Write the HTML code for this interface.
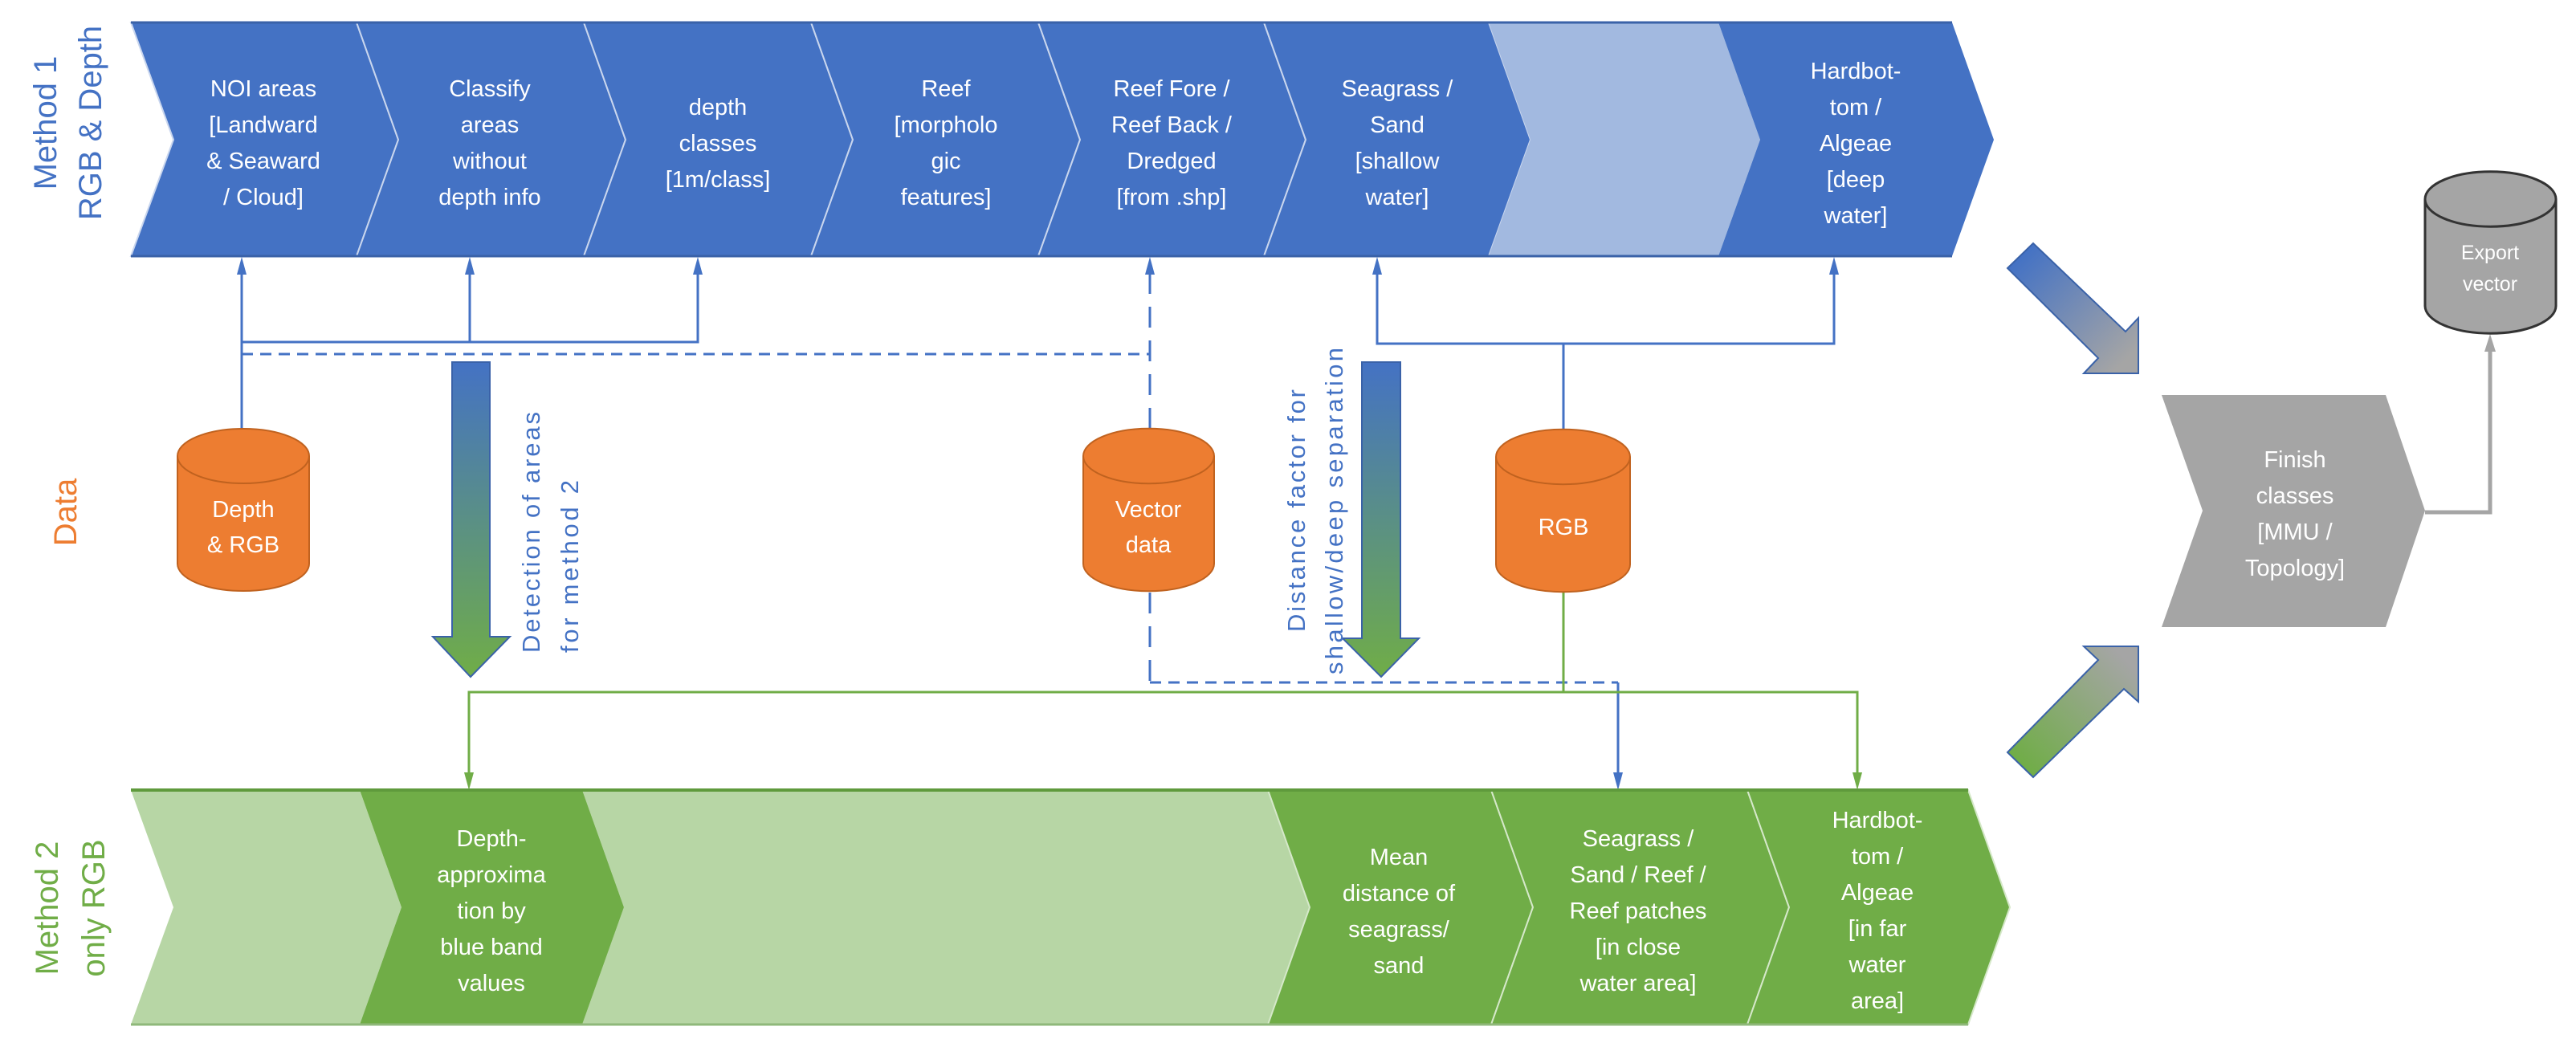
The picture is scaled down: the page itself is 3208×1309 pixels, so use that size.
<!DOCTYPE html>
<html><head><meta charset="utf-8"><style>html,body{margin:0;padding:0;background:#fff}svg{display:block}</style></head><body>
<svg width="3208" height="1309" viewBox="0 0 3208 1309" xmlns="http://www.w3.org/2000/svg" font-family="Liberation Sans, sans-serif">
<defs>
<linearGradient id="bg" x1="0" y1="0" x2="0" y2="1"><stop offset="0" stop-color="#4472C4"/><stop offset="1" stop-color="#70AD47"/></linearGradient>
<linearGradient id="dblue" x1="0" y1="0" x2="1" y2="1"><stop offset="0.1" stop-color="#4472C4"/><stop offset="0.9" stop-color="#A5A5A5"/></linearGradient>
<linearGradient id="dgreen" x1="0" y1="1" x2="1" y2="0"><stop offset="0.1" stop-color="#70AD47"/><stop offset="0.9" stop-color="#A5A5A5"/></linearGradient>
</defs>

<!-- Top band -->
<g stroke="#C9D6EE" stroke-width="2">
<polygon points="163,28 444,28 496,174 444,319 163,319 216,174" fill="#4472C4"/>
<polygon points="444,28 727,28 779,174 727,319 444,319 496,174" fill="#4472C4"/>
<polygon points="727,28 1010,28 1062,174 1010,319 727,319 779,174" fill="#4472C4"/>
<polygon points="1010,28 1293,28 1345,174 1293,319 1010,319 1062,174" fill="#4472C4"/>
<polygon points="1293,28 1574,28 1626,174 1574,319 1293,319 1345,174" fill="#4472C4"/>
<polygon points="1574,28 1854,28 1906,174 1854,319 1574,319 1626,174" fill="#4472C4"/>
<polygon points="1854,28 2140,28 2192,174 2140,319 1854,319 1906,174" fill="#A2B9E0" stroke="none"/>
<polygon points="2140,28 2431,28 2483,174 2431,319 2140,319 2192,174" fill="#4472C4" stroke="none"/>
</g>
<line x1="163" y1="28" x2="2431" y2="28" stroke="#3A62A8" stroke-width="3"/>
<line x1="163" y1="319" x2="2431" y2="319" stroke="#3A62A8" stroke-width="3"/>

<g fill="#fff" font-size="29" text-anchor="middle">
<text x="328" y="120">NOI areas</text><text x="328" y="165">[Landward</text><text x="328" y="210">&amp; Seaward</text><text x="328" y="255">/ Cloud]</text>
<text x="610" y="120">Classify</text><text x="610" y="165">areas</text><text x="610" y="210">without</text><text x="610" y="255">depth info</text>
<text x="894" y="143">depth</text><text x="894" y="188">classes</text><text x="894" y="233">[1m/class]</text>
<text x="1178" y="120">Reef</text><text x="1178" y="165">[morpholo</text><text x="1178" y="210">gic</text><text x="1178" y="255">features]</text>
<text x="1459" y="120">Reef Fore /</text><text x="1459" y="165">Reef Back /</text><text x="1459" y="210">Dredged</text><text x="1459" y="255">[from .shp]</text>
<text x="1740" y="120">Seagrass /</text><text x="1740" y="165">Sand</text><text x="1740" y="210">[shallow</text><text x="1740" y="255">water]</text>
<text x="2311" y="98">Hardbot-</text><text x="2311" y="143">tom /</text><text x="2311" y="188">Algeae</text><text x="2311" y="233">[deep</text><text x="2311" y="278">water]</text>
</g>

<!-- side labels -->
<g font-size="40" text-anchor="middle">
<text transform="translate(70,153) rotate(-90)" fill="#4472C4">Method 1</text>
<text transform="translate(126,153) rotate(-90)" fill="#4472C4">RGB &amp; Depth</text>
<text transform="translate(95,638) rotate(-90)" fill="#ED7D31">Data</text>
<text transform="translate(72,1131) rotate(-90)" fill="#70AD47">Method 2</text>
<text transform="translate(130,1131) rotate(-90)" fill="#70AD47">only RGB</text>
</g>

<!-- blue connectors top -->
<g stroke="#4472C4" stroke-width="3" fill="none">
<line x1="301" y1="534" x2="301" y2="340"/>
<polyline points="301,426 869,426 869,340"/>
<line x1="585" y1="426" x2="585" y2="340"/>
<line x1="301" y1="441" x2="1432" y2="441" stroke-dasharray="14,9"/>
<line x1="1432" y1="534" x2="1432" y2="340" stroke-dasharray="26,16"/>
<polyline points="1715,340 1715,428 2284,428 2284,340"/>
<line x1="1947" y1="428" x2="1947" y2="535"/>
</g>
<g fill="#4472C4">
<polygon points="301,320 295,342 307,342"/>
<polygon points="585,320 579,342 591,342"/>
<polygon points="869,320 863,342 875,342"/>
<polygon points="1432,320 1426,342 1438,342"/>
<polygon points="1715,320 1709,342 1721,342"/>
<polygon points="2284,320 2278,342 2290,342"/>
</g>

<!-- lower connectors -->
<g fill="none" stroke-width="3">
<line x1="1432" y1="738" x2="1432" y2="850" stroke="#4472C4" stroke-dasharray="26,16"/>
<line x1="1432" y1="850" x2="2015" y2="850" stroke="#4472C4" stroke-dasharray="14,9"/>
<line x1="2015" y1="850" x2="2015" y2="965" stroke="#4472C4"/>
<line x1="1947" y1="738" x2="1947" y2="862" stroke="#70AD47"/>
<polyline points="584,965 584,862 2313,862 2313,965" stroke="#70AD47"/>
</g>
<polygon points="584,984 578,962 590,962" fill="#70AD47"/>
<polygon points="2313,984 2307,962 2319,962" fill="#70AD47"/>
<polygon points="2015,984 2009,962 2021,962" fill="#4472C4"/>

<!-- gradient big arrows -->
<polygon points="563,451 610,451 610,793 635,793 586,843 539,793 563,793" fill="url(#bg)" stroke="#3A62A8" stroke-width="2"/>
<polygon points="1696,451 1744,451 1744,795 1767,795 1720,843 1672,795 1696,795" fill="url(#bg)" stroke="#3A62A8" stroke-width="2"/>
<g fill="#4472C4" font-size="31">
<text transform="translate(672,813) rotate(-90)" textLength="300">Detection of areas</text>
<text transform="translate(720,813) rotate(-90)" textLength="215">for method 2</text>
<text transform="translate(1625,787) rotate(-90)" textLength="302">Distance factor for</text>
<text transform="translate(1672,840) rotate(-90)" textLength="407">shallow/deep separation</text>
</g>

<!-- cylinders -->
<g stroke="#C0621F" stroke-width="2">
<path d="M221,568 A82,34 0 0 1 385,568 L385,702 A82,34 0 0 1 221,702 Z" fill="#ED7D31"/>
<path d="M221,568 A82,34 0 0 0 385,568" fill="none"/>
<path d="M1349,568 A81,34 0 0 1 1512,568 L1512,702 A81,34 0 0 1 1349,702 Z" fill="#ED7D31"/>
<path d="M1349,568 A81,34 0 0 0 1512,568" fill="none"/>
<path d="M1863,569 A83,34 0 0 1 2030,569 L2030,703 A83,34 0 0 1 1863,703 Z" fill="#ED7D31"/>
<path d="M1863,569 A83,34 0 0 0 2030,569" fill="none"/>
</g>
<g fill="#fff" font-size="29" text-anchor="middle">
<text x="303" y="644">Depth</text><text x="303" y="688">&amp; RGB</text>
<text x="1430" y="644">Vector</text><text x="1430" y="688">data</text>
<text x="1947" y="666">RGB</text>
</g>

<!-- bottom band -->
<g stroke="#D5E8C9" stroke-width="2">
<polygon points="163,984 448,984 500,1130 448,1276 163,1276 216,1130" fill="#B7D6A5" stroke="none"/>
<polygon points="725,984 1579,984 1631,1130 1579,1276 725,1276 777,1130" fill="#B7D6A5" stroke="none"/>
<polygon points="448,984 725,984 777,1130 725,1276 448,1276 500,1130" fill="#70AD47" stroke="none"/>
<polygon points="1579,984 1857,984 1909,1130 1857,1276 1579,1276 1631,1130" fill="#70AD47"/>
<polygon points="1857,984 2176,984 2228,1130 2176,1276 1857,1276 1909,1130" fill="#70AD47"/>
<polygon points="2176,984 2451,984 2503,1130 2451,1276 2176,1276 2228,1130" fill="#70AD47"/>
</g>
<line x1="163" y1="984" x2="2451" y2="984" stroke="#5F9A3C" stroke-width="4"/>
<line x1="163" y1="1276" x2="2451" y2="1276" stroke="#8FB87A" stroke-width="3"/>
<g fill="#fff" font-size="29" text-anchor="middle">
<text x="612" y="1054">Depth-</text><text x="612" y="1099">approxima</text><text x="612" y="1144">tion by</text><text x="612" y="1189">blue band</text><text x="612" y="1234">values</text>
<text x="1742" y="1077">Mean</text><text x="1742" y="1122">distance of</text><text x="1742" y="1167">seagrass/</text><text x="1742" y="1212">sand</text>
<text x="2040" y="1054">Seagrass /</text><text x="2040" y="1099">Sand / Reef /</text><text x="2040" y="1144">Reef patches</text><text x="2040" y="1189">[in close</text><text x="2040" y="1234">water area]</text>
<text x="2338" y="1031">Hardbot-</text><text x="2338" y="1076">tom /</text><text x="2338" y="1121">Algeae</text><text x="2338" y="1166">[in far</text><text x="2338" y="1211">water</text><text x="2338" y="1256">area]</text>
</g>

<!-- diagonal arrows -->
<polygon points="2500,334 2532,303 2647,413 2663,396 2663,465 2595,465 2613,446" fill="url(#dblue)" stroke="#3A62A8" stroke-width="2"/>
<polygon points="2500,937 2532,968 2645,858 2663,874 2663,805 2595,805 2613,822" fill="url(#dgreen)" stroke="#3A62A8" stroke-width="2"/>

<!-- finish -->
<polygon points="2692,492 2971,492 3020,636 2971,781 2692,781 2743,636" fill="#A5A5A5"/>
<g fill="#fff" font-size="29" text-anchor="middle">
<text x="2858" y="582">Finish</text><text x="2858" y="627">classes</text><text x="2858" y="672">[MMU /</text><text x="2858" y="717">Topology]</text>
</g>
<polyline points="3020,638 3101,638 3101,432" fill="none" stroke="#A5A5A5" stroke-width="5"/>
<polygon points="3101,416 3094,438 3108,438" fill="#A5A5A5"/>

<!-- export cylinder -->
<path d="M3020,248 A81,34 0 0 1 3183,248 L3183,381 A81,34 0 0 1 3020,381 Z" fill="#A5A5A5" stroke="#333" stroke-width="3"/>
<path d="M3020,248 A81,34 0 0 0 3183,248" fill="none" stroke="#333" stroke-width="3"/>
<g fill="#fff" font-size="25" text-anchor="middle"><text x="3101" y="323">Export</text><text x="3101" y="362">vector</text></g>
</svg>
</body></html>
